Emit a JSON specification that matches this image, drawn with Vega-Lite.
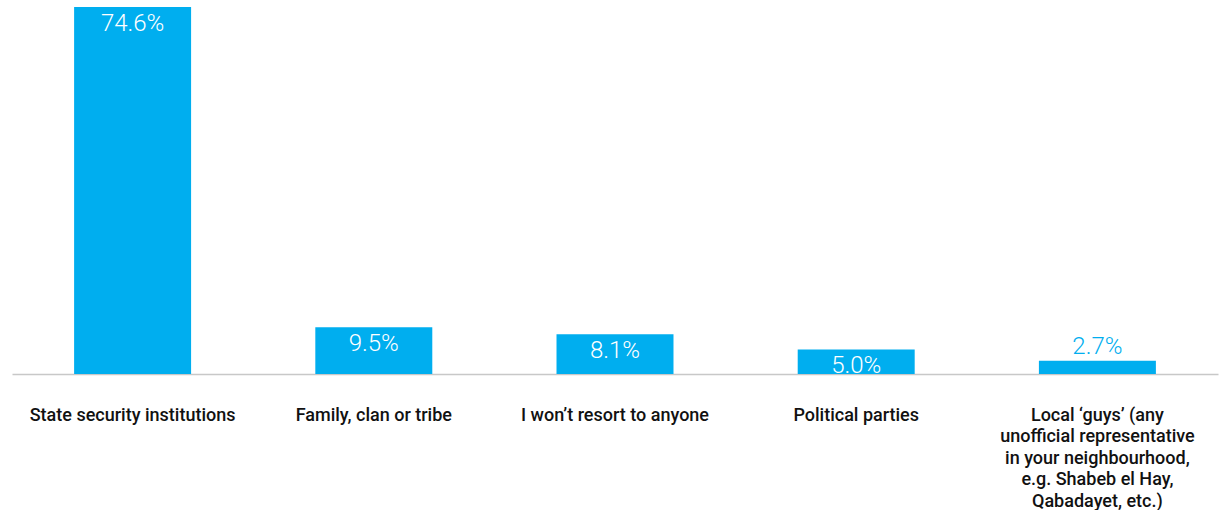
{
  "$schema": "https://vega.github.io/schema/vega-lite/v6.json",
  "width": 1206,
  "height": 374,
  "padding": {"left": 12, "top": 0, "right": 1, "bottom": 0},
  "autosize": {"type": "pad"},
  "background": "white",
  "config": {"view": {"stroke": null}},
  "data": {
    "values": [
      {"category": "State security institutions", "value": 74.6, "label": "74.6%"},
      {"category": "Family, clan or tribe", "value": 9.5, "label": "9.5%"},
      {"category": "I won’t resort to anyone", "value": 8.1, "label": "8.1%"},
      {"category": "Political parties", "value": 5.0, "label": "5.0%"},
      {"category": "Local ‘guys’ (any|unofficial representative|in your neighbourhood,|e.g. Shabeb el Hay,|Qabadayet, etc.)", "value": 2.7, "label": "2.7%"}
    ]
  },
  "encoding": {
    "x": {
      "field": "category",
      "type": "nominal",
      "sort": null,
      "scale": {"paddingInner": 0.515, "paddingOuter": 0.2575},
      "axis": {
        "title": null,
        "labelAngle": 0,
        "labelExpr": "split(datum.label, '|')",
        "labelFont": "Roboto",
        "labelFontSize": 18,
        "labelFontWeight": 500,
        "labelColor": "#111111",
        "labelPadding": 32,
        "labelLineHeight": 21.5,
        "labelLimit": 300,
        "labelBaseline": "top",
        "ticks": false,
        "domainColor": "#c8c8c8",
        "domainWidth": 1.5
      }
    },
    "y": {
      "field": "value",
      "type": "quantitative",
      "scale": {"domain": [0, 76]},
      "axis": null
    }
  },
  "layer": [
    {"mark": {"type": "bar", "color": "#00AEEF"}},
    {
      "transform": [{"filter": "datum.value >= 3"}],
      "mark": {"type": "text", "baseline": "top", "dy": 5, "font": "Roboto", "fontSize": 24, "fontWeight": 300, "color": "white"},
      "encoding": {"text": {"field": "label", "type": "nominal"}}
    },
    {
      "transform": [{"filter": "datum.value < 3"}],
      "mark": {"type": "text", "baseline": "bottom", "dy": -2, "font": "Roboto", "fontSize": 24, "fontWeight": 300, "color": "#00AEEF"},
      "encoding": {"text": {"field": "label", "type": "nominal"}}
    }
  ]
}
